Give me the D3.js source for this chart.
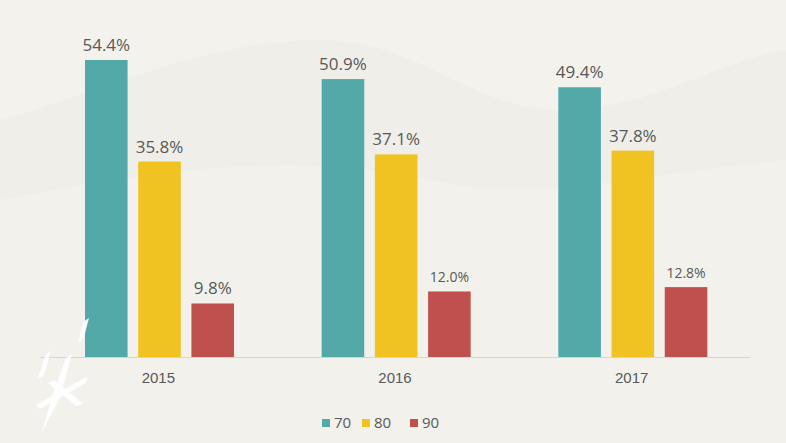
<!DOCTYPE html>
<html>
<head>
<meta charset="utf-8">
<script src="https://cdn.jsdelivr.net/npm/d3@7"></script>
<style>
  html, body { margin: 0; padding: 0; background: #f2f1ec; }
  svg { display: block; font-family: "Open Sans", "Noto Sans", sans-serif; }
</style>
</head>
<body>
<svg id="chart"></svg>
<script>
// chart data
const years = ['2015', '2016', '2017'];
const series = ['70', '80', '90'];
const share70 = [54.4, 50.9, 49.4];
const share80 = [35.8, 37.1, 37.8];
const share90 = [9.8, 12.0, 12.8];

const width = 786, height = 443;
const colors = {'70': '#53a9a7', '80': '#f0c322', '90': '#c0504e'};

const svg = d3.select('#chart')
    .attr('width', width)
    .attr('height', height);

// faint background hills
const bg = svg.append('g');
bg.append('rect').attr('width', width).attr('height', height).attr('fill', '#f3f2ed');
bg.append('path')
    .attr('d', 'M0,120 C80,100 200,40 320,40 C420,40 470,110 560,110 C650,110 720,60 786,50 L786,443 L0,443 Z')
    .attr('fill', '#efeee8');
bg.append('path')
    .attr('d', 'M0,200 C150,170 300,150 430,180 C540,205 660,170 786,160 L786,443 L0,443 Z')
    .attr('fill', '#f2f1ec');

// rows per year
const rows = years.map((y, i) => ({
  year: y,
  values: [
    {key: '70', value: share70[i]},
    {key: '80', value: share80[i]},
    {key: '90', value: share90[i]}
  ]
}));

const baseline = 357;

const x0 = d3.scaleBand()
    .domain(years)
    .range([40, 750]);

// bar positions inside one year band
const x1 = d3.scaleBand()
    .domain(series)
    .range([45, 194])
    .paddingInner(0.2);

const y = d3.scaleLinear()
    .domain([0, 60])
    .range([baseline, baseline - 60 * 5.46]);

// x axis
const xAxis = d3.axisBottom(x0).tickSize(0).tickPadding(15);
svg.append('g')
    .attr('transform', `translate(0,${baseline})`)
    .call(xAxis)
    .call(g => g.select('.domain').attr('stroke', '#d6d5cf').attr('stroke-width', 1))
    .call(g => g.selectAll('.tick text')
        .attr('fill', '#595959')
        .attr('font-size', 15));

// bars
const groups = svg.selectAll('.year')
    .data(rows)
    .join('g')
    .attr('class', 'year')
    .attr('transform', d => `translate(${x0(d.year)},0)`);

groups.selectAll('rect')
    .data(d => d.values)
    .join('rect')
    .attr('x', d => x1(d.key))
    .attr('y', d => y(d.value))
    .attr('width', x1.bandwidth())
    .attr('height', d => y(0) - y(d.value))
    .attr('fill', d => colors[d.key]);

// value labels (the later red ones are set in a smaller size)
groups.selectAll('text.val')
    .data((d, i) => d.values.map(v => ({...v, small: v.key === '90' && i > 0})))
    .join('text')
    .attr('class', 'val')
    .attr('x', d => x1(d.key) + x1.bandwidth() / 2)
    .attr('y', d => y(d.value) - 9)
    .attr('text-anchor', 'middle')
    .attr('fill', '#595959')
    .attr('font-size', d => d.small ? 14 : 17)
    .text(d => d.value.toFixed(1) + '%');

// legend
const legend = svg.append('g')
    .attr('transform', 'translate(322,423)');
const legendX = [0, 40, 88];
const items = legend.selectAll('g')
    .data(series)
    .join('g')
    .attr('transform', (d, i) => `translate(${legendX[i]},0)`);
items.append('rect')
    .attr('x', 0)
    .attr('y', -4)
    .attr('width', 8)
    .attr('height', 8)
    .attr('fill', d => colors[d]);
items.append('text')
    .attr('x', 12)
    .attr('y', 5)
    .attr('fill', '#595959')
    .attr('font-size', 15)
    .text(d => d);

// white watermark mark in the lower left corner
const mark = svg.append('g')
    .attr('fill', '#ffffff')
    .attr('opacity', 0.95);
mark.append('path').attr('d', 'M78,344 L84,337 L89,318 L83,322 Z');
mark.append('path').attr('d', 'M38,378 L44,376 L51,350 L45,356 Z');
mark.append('path').attr('d', 'M36,405 L88,376 L86,383 L40,409 Z');
mark.append('path').attr('d', 'M48,383 L54,380 L84,404 L76,406 Z');
mark.append('path').attr('d', 'M66,358 L72,354 L60,398 L42,432 L52,396 Z');
</script>
</body>
</html>
